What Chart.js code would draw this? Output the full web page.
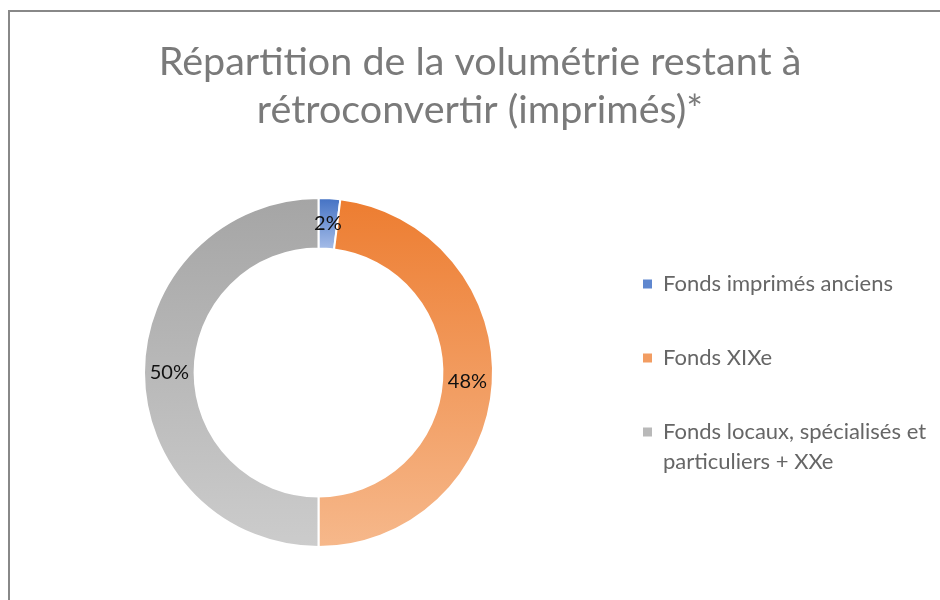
<!DOCTYPE html>
<html lang="fr">
<head>
<meta charset="utf-8">
<title>Répartition de la volumétrie restant à rétroconvertir (imprimés)*</title>
<script src="https://cdn.jsdelivr.net/npm/chart.js@4.4.1/dist/chart.umd.min.js"></script>
<style>
  html, body { margin: 0; padding: 0; background: #ffffff; }
  .wrap { position: relative; width: 940px; height: 600px; overflow: hidden; }
  .frame {
    position: absolute; left: 8px; top: 10px; width: 1000px; height: 700px;
    border-left: 2px solid #888888; border-top: 2px solid #888888;
    pointer-events: none;
  }
  canvas { position: absolute; left: 0; top: 0; }
</style>
</head>
<body>
<div class="wrap">
  <canvas id="donut" width="940" height="600"></canvas>
  <div class="frame"></div>
</div>
<script>
const TITLE_LINES = ["Répartition de la volumétrie restant à", "rétroconvertir (imprimés)*"];
const CATEGORIES = [
  "Fonds imprimés anciens",
  "Fonds XIXe",
  "Fonds locaux, spécialisés et particuliers + XXe",
];
const LEGEND_TEXT = [
  "Fonds imprimés anciens",
  "Fonds XIXe",
  ["Fonds locaux, spécialisés et", "particuliers + XXe"],
];
const SHARES = [2, 48, 50];

const COLORS_TOP = ["#4472c4", "#ed7d31", "#a5a5a5"];
const COLORS_BOTTOM = ["#a6bde8", "#f6b88b", "#cccccc"];
const COLORS_LEGEND = ["#5f87cf", "#f29d62", "#b9b9b9"];

const LEGEND_BOX_WIDTH = 323;

// vertical gradient over each slice's own bounding box, like the Office fill
function sliceFill(context) {
  const i = context.dataIndex;
  const chart = context.chart;
  const area = chart.chartArea;
  const ctrl = chart.getDatasetMeta(0).controller;
  if (!area || !ctrl || !ctrl.outerRadius) {
    return COLORS_LEGEND[i];
  }

  const cx = (area.left + area.right) / 2 + (ctrl.offsetX || 0);
  const cy = (area.top + area.bottom) / 2 + (ctrl.offsetY || 0);
  const rOut = ctrl.outerRadius;
  const rIn = ctrl.innerRadius;
  const total = SHARES.reduce((a, b) => a + b, 0);
  const before = SHARES.slice(0, i).reduce((a, b) => a + b, 0);
  const a0 = -Math.PI / 2 + (2 * Math.PI * before) / total;
  const a1 = a0 + (2 * Math.PI * SHARES[i]) / total;

  const ys = [a0, a1].flatMap((a) => [cy + rOut * Math.sin(a), cy + rIn * Math.sin(a)]);
  if (a0 <= -Math.PI / 2 && a1 >= -Math.PI / 2) ys.push(cy - rOut);
  if (a0 <= Math.PI / 2 && a1 >= Math.PI / 2) ys.push(cy + rOut);
  if (a0 <= (3 * Math.PI) / 2 && a1 >= (3 * Math.PI) / 2) ys.push(cy - rOut);

  const gradient = chart.ctx.createLinearGradient(0, Math.min(...ys), 0, Math.max(...ys));
  gradient.addColorStop(0, COLORS_TOP[i]);
  gradient.addColorStop(1, COLORS_BOTTOM[i]);
  return gradient;
}

// legend keeps a fixed layout width but may draw past its right edge
const fixLegendWidth = {
  id: "fixLegendWidth",
  beforeLayout(chart) {
    const legend = chart.legend;
    if (!legend || legend._fixedWidth) {
      return;
    }
    const fit = legend.fit.bind(legend);
    const draw = legend.draw.bind(legend);
    legend.fit = () => {
      fit();
      legend.width = LEGEND_BOX_WIDTH;
    };
    legend.draw = (area) => {
      const right = legend.right;
      legend.right = chart.width;
      draw(area);
      legend.right = right;
    };
    legend._fixedWidth = true;
  },
};

const sliceLabels = {
  id: "sliceLabels",
  afterDatasetsDraw(chart) {
    const { ctx } = chart;
    const meta = chart.getDatasetMeta(0);
    ctx.save();
    ctx.font = "20px Lato";
    ctx.fillStyle = "#111111";
    ctx.textAlign = "center";
    ctx.textBaseline = "middle";
    meta.data.forEach((arc, i) => {
      const { x, y } = arc.tooltipPosition();
      ctx.fillText(`${SHARES[i]}%`, x, y);
    });
    ctx.restore();
  },
};

new Chart(document.getElementById("donut"), {
  type: "doughnut",
  data: {
    labels: CATEGORIES,
    datasets: [
      {
        data: SHARES,
        backgroundColor: sliceFill,
        borderColor: "#ffffff",
        borderWidth: 2,
        hoverOffset: 0,
      },
    ],
  },
  options: {
    responsive: false,
    animation: false,
    cutout: "71%",
    layout: {
      padding: { left: 46, right: 26, top: 10, bottom: 52 },
    },
    plugins: {
      title: {
        display: true,
        text: TITLE_LINES,
        color: "#7a7a7a",
        font: { family: "Lato", size: 39.5, weight: "400", lineHeight: "48px" },
        padding: { top: 28, bottom: 63 },
      },
      legend: {
        position: "right",
        fullSize: false,
        title: {
          display: true,
          text: "",
          font: { size: 1, lineHeight: 1 },
          padding: { top: 8, bottom: 0 },
        },
        labels: {
          boxWidth: 9,
          boxHeight: 9,
          padding: 52,
          color: "#111111",
          font: { family: "Lato", size: 22, lineHeight: "30px" },
          generateLabels: () => LEGEND_TEXT.map((text, i) => ({
            text,
            fillStyle: COLORS_LEGEND[i],
            strokeStyle: COLORS_LEGEND[i],
            lineWidth: 0,
            hidden: false,
            index: i,
          })),
        },
      },
      tooltip: { enabled: false },
    },
  },
  plugins: [fixLegendWidth, sliceLabels],
});
</script>
</body>
</html>
